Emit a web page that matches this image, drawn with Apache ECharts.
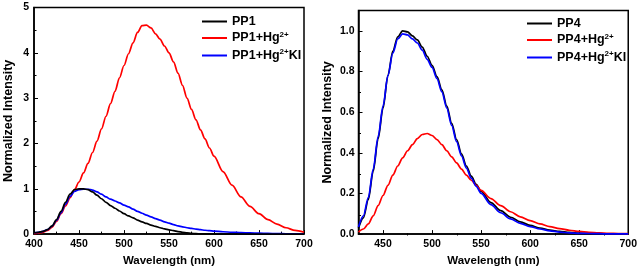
<!DOCTYPE html>
<html>
<head>
<meta charset="utf-8">
<script src="https://cdn.jsdelivr.net/npm/echarts@6/dist/echarts.min.js"></script>
<style>html,body{margin:0;padding:0;background:#fff}#c{width:640px;height:272px}</style>
</head>
<body>
<div id="c"></div>
<script>
// ---- Left panel (PP1) ----
const wl1 = [400,405,410,415,420,425,430,435,440,445,450,455,460,465,470,475,480,485,490,495,500,505,510,515,520,525,530,535,540,545,550,555,560,565,570,575,580,585,590,595,600,610,620,630,640,650,660,670,680,690,700];
const pp1 = [0.03,0.04,0.06,0.1,0.18,0.32,0.5,0.7,0.88,0.98,1.0,1.0,0.98,0.93,0.86,0.78,0.7,0.63,0.57,0.51,0.45,0.4,0.36,0.31,0.27,0.235,0.2,0.17,0.14,0.115,0.095,0.075,0.055,0.04,0.025,0.016,0.01,0.006,0.004,0.003,0.002,0.001,0.001,0.001,0,0,0,0,0,0,0];
const pp1Hg = [0.01,0.02,0.04,0.08,0.15,0.28,0.45,0.62,0.8,0.98,1.15,1.35,1.56,1.8,2.05,2.32,2.6,2.88,3.15,3.45,3.72,3.98,4.22,4.45,4.6,4.61,4.55,4.42,4.3,4.15,4.0,3.8,3.55,3.28,3.0,2.75,2.52,2.3,2.1,1.9,1.72,1.38,1.08,0.82,0.61,0.45,0.32,0.22,0.14,0.08,0.04];
const pp1HgKI = [0.03,0.04,0.06,0.1,0.17,0.3,0.47,0.66,0.83,0.94,0.98,0.99,0.99,0.97,0.93,0.88,0.82,0.77,0.73,0.69,0.64,0.6,0.55,0.5,0.46,0.42,0.38,0.34,0.31,0.27,0.24,0.21,0.18,0.16,0.14,0.125,0.11,0.097,0.085,0.075,0.065,0.052,0.04,0.032,0.025,0.02,0.015,0.011,0.008,0.006,0.005];

// ---- Right panel (PP4) ----
const wl2 = [425,430,435,440,445,450,455,460,465,470,475,480,485,490,495,500,505,510,515,520,525,530,535,540,545,550,560,570,580,590,600,610,620,630,640,650,660,670,680,690,700];
const pp4 = [0.03,0.08,0.17,0.31,0.47,0.62,0.78,0.9,0.97,1.0,0.995,0.975,0.955,0.92,0.875,0.83,0.775,0.71,0.63,0.545,0.465,0.395,0.335,0.285,0.245,0.21,0.155,0.115,0.083,0.06,0.043,0.03,0.02,0.013,0.008,0.005,0.003,0.002,0.001,0.001,0.001];
const pp4Hg = [0.01,0.025,0.05,0.09,0.14,0.19,0.24,0.29,0.335,0.375,0.41,0.44,0.47,0.49,0.495,0.485,0.465,0.44,0.41,0.38,0.35,0.32,0.29,0.265,0.24,0.215,0.175,0.14,0.11,0.085,0.066,0.05,0.037,0.027,0.019,0.013,0.009,0.006,0.004,0.003,0.002];
const pp4HgKI = [0.035,0.09,0.18,0.32,0.48,0.63,0.78,0.89,0.96,0.985,0.98,0.96,0.94,0.905,0.86,0.82,0.765,0.7,0.62,0.535,0.455,0.385,0.325,0.275,0.235,0.2,0.145,0.105,0.075,0.053,0.037,0.025,0.016,0.01,0.006,0.004,0.003,0.002,0.001,0.001,0.001];

// tick values
const x1Min = 400, x1Max = 700, x1Step = 50;
const y1Min = 0, y1Max = 5, y1Step = 1;
const x2Min = 425, x2Max = 700;
const x2Major = [450,500,550,600,650,700];
const x2Minor = [475,525,575,625,675];
const y2Max = 1.1;
const y2Major = [0,0.2,0.4,0.6,0.8,1.0];
const y2Minor = [0.1,0.3,0.5,0.7,0.9];

const names1 = ['PP1','PP1+Hg2+','PP1+Hg2+KI'];
const names2 = ['PP4','PP4+Hg2+','PP4+Hg2+KI'];
const colors = ['#000000','#ff0000','#0000ff'];

const FONT = 'Liberation Sans, Arial, sans-serif';
const zip = (xs, ys) => xs.map((x, i) => [x, ys[i]]);

function legendFmt(n) {
  const m = n.match(/^(.*Hg)(2\+)(.*)$/);
  if (!m) return '{n|' + n + '}';
  return '{n|' + m[1] + '}{s|' + m[2] + '}' + (m[3] ? '{n|' + m[3] + '}' : '');
}
const legendRich = {
  n: {fontSize: 12.5, fontWeight: 'bold', fontFamily: FONT, color: '#000', lineHeight: 14},
  s: {fontSize: 8, fontWeight: 'bold', fontFamily: FONT, color: '#000', padding: [0,0,7,0], lineHeight: 14}
};
function legend(names, left, top) {
  return {
    data: names, left: left, top: top, orient: 'vertical', padding: 0,
    icon: 'rect', itemWidth: 25, itemHeight: 2, itemGap: 2.5,
    textStyle: {rich: legendRich},
    formatter: legendFmt, selectedMode: false
  };
}
const lbl = {color: '#000', fontWeight: 'bold', fontSize: 10.5, fontFamily: FONT};
const axLine = {show: true, lineStyle: {color: '#000', width: 1.5}};
const nameStyle = {color: '#000', fontWeight: 'bold', fontFamily: FONT};

const option = {
  animation: false,
  backgroundColor: '#fff',
  grid: [
    {left: 34, top: 7.5, width: 270, height: 228, show: true, borderColor: '#000', borderWidth: 1.5, containLabel: false},
    {left: 358.5, top: 10.5, width: 270.5, height: 225, show: true, borderColor: '#000', borderWidth: 1.5, containLabel: false},
    {left: 358.5, top: 10.5, width: 270.5, height: 225, show: false, containLabel: false}
  ],
  legend: [legend(names1, 202, 15), legend(names2, 527, 17)],
  xAxis: [
    {gridIndex: 0, type: 'value', min: x1Min, max: x1Max, interval: x1Step,
     axisLine: axLine, splitLine: {show: false},
     axisTick: {inside: true, length: 4, lineStyle: {color: '#000', width: 1}},
     minorTick: {show: true, splitNumber: 2, length: 2.5, lineStyle: {color: '#000', width: 1}},
     axisLabel: Object.assign({margin: 5}, lbl),
     name: 'Wavelength (nm)', nameLocation: 'middle', nameGap: 16,
     nameTextStyle: Object.assign({fontSize: 11.5}, nameStyle)},
    {gridIndex: 1, type: 'value', min: x2Min, max: x2Max,
     axisLine: axLine, splitLine: {show: false},
     axisTick: {inside: true, length: 4, customValues: x2Major, lineStyle: {color: '#000', width: 1}},
     axisLabel: Object.assign({margin: 5, customValues: x2Major}, lbl),
     name: 'Wavelength (nm)', nameLocation: 'middle', nameGap: 16,
     nameTextStyle: Object.assign({fontSize: 11.5}, nameStyle)},
    {gridIndex: 2, type: 'value', min: x2Min, max: x2Max,
     axisLine: {show: false}, splitLine: {show: false}, axisLabel: {show: false},
     axisTick: {inside: true, length: 2.5, customValues: x2Minor, lineStyle: {color: '#000', width: 1}}}
  ],
  yAxis: [
    {gridIndex: 0, type: 'value', min: y1Min, max: y1Max, interval: y1Step,
     axisLine: axLine, splitLine: {show: false},
     axisTick: {inside: true, length: 4, lineStyle: {color: '#000', width: 1}},
     minorTick: {show: true, splitNumber: 2, length: 2.5, lineStyle: {color: '#000', width: 1}},
     axisLabel: Object.assign({margin: 5}, lbl),
     name: 'Normalized Intensity', nameLocation: 'middle', nameGap: 19,
     nameTextStyle: Object.assign({fontSize: 12.5}, nameStyle)},
    {gridIndex: 1, type: 'value', min: 0, max: y2Max,
     axisLine: axLine, splitLine: {show: false},
     axisTick: {inside: true, length: 4, customValues: y2Major, lineStyle: {color: '#000', width: 1}},
     axisLabel: Object.assign({margin: 4, customValues: y2Major, formatter: v => v.toFixed(1)}, lbl),
     name: 'Normalized Intensity', nameLocation: 'middle', nameGap: 24,
     nameTextStyle: Object.assign({fontSize: 12.5}, nameStyle)},
    {gridIndex: 2, type: 'value', min: 0, max: y2Max,
     axisLine: {show: false}, splitLine: {show: false}, axisLabel: {show: false},
     axisTick: {inside: true, length: 2.5, customValues: y2Minor, lineStyle: {color: '#000', width: 1}}}
  ],
  series: []
};

const left = [pp1, pp1Hg, pp1HgKI];
const right = [pp4, pp4Hg, pp4HgKI];
left.forEach((ys, i) => option.series.push({
  name: names1[i], type: 'line', xAxisIndex: 0, yAxisIndex: 0,
  data: zip(wl1, ys), symbol: 'none', smooth: 0.3, smoothMonotone: 'x',
  lineStyle: {color: colors[i], width: 1.7}, itemStyle: {color: colors[i]}, z: i === 0 ? 3 : 2
}));
right.forEach((ys, i) => option.series.push({
  name: names2[i], type: 'line', xAxisIndex: 1, yAxisIndex: 1,
  data: zip(wl2, ys), symbol: 'none', smooth: 0.3, smoothMonotone: 'x',
  lineStyle: {color: colors[i], width: 1.7}, itemStyle: {color: colors[i]}, z: i === 0 ? 2 : 3
}));

const chart = echarts.init(document.getElementById('c'), null, {renderer: 'canvas'});
chart.setOption(option);
</script>
</body>
</html>
